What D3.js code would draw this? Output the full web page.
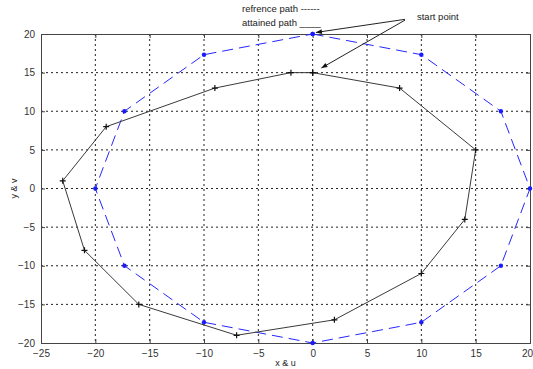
<!DOCTYPE html>
<html>
<head>
<meta charset="utf-8">
<style>
  body { margin: 0; background: #fff; }
  svg text { font-family: "Liberation Sans", Arial, sans-serif; }
</style>
<script src="https://cdn.jsdelivr.net/npm/d3@7"></script>
</head>
<body>
<svg id="graph"></svg>
<script>
// reference path (12 points on the circle r=20), closed
var refX = [0, 10, 17.32, 20, 17.32, 10, 0, -10, -17.32, -20, -17.32, -10, 0];
var refY = [20, 17.32, 10, 0, -10, -17.32, -20, -17.32, -10, 0, 10, 17.32, 20];

// attained path
var attX = [0, 8, 15, 14, 10, 2, -7, -16, -21, -23, -19, -9, -2, 0];
var attY = [15, 13, 5, -4, -11, -17, -19, -15, -8, 1, 8, 13, 15, 15];

var xTicks = [-25, -20, -15, -10, -5, 0, 5, 10, 15, 20];
var yTicks = [-20, -15, -10, -5, 0, 5, 10, 15, 20];

var margin = {top: 34, right: 3, bottom: 26, left: 41},
    width = 533 - margin.left - margin.right,
    height = 369 - margin.top - margin.bottom;

var x = d3.scaleLinear().domain([-25, 20]).range([0, width]);
var y = d3.scaleLinear().domain([-20, 20]).range([height, 0]);

var root = d3.select('#graph')
    .attr('width', 533)
    .attr('height', 369);

var defs = root.append('defs');
defs.append('marker')
    .attr('id', 'arrow')
    .attr('viewBox', '0 0 10 10')
    .attr('refX', 10).attr('refY', 5)
    .attr('markerWidth', 7).attr('markerHeight', 6)
    .attr('orient', 'auto')
  .append('path')
    .attr('d', 'M0,1 L10,5 L0,9 z')
    .attr('fill', '#111');

var svg = root.append('g')
    .attr('transform', 'translate(' + margin.left + ',' + margin.top + ')');

// grid
svg.append('g').selectAll('line.vx')
  .data(xTicks.slice(1, -1))
  .enter().append('line')
    .attr('x1', d => x(d)).attr('x2', d => x(d))
    .attr('y1', 0).attr('y2', height)
    .attr('stroke', '#222')
    .attr('stroke-width', 1)
    .attr('stroke-dasharray', '2,3');
svg.append('g').selectAll('line.hy')
  .data(yTicks.slice(1, -1))
  .enter().append('line')
    .attr('y1', d => y(d)).attr('y2', d => y(d))
    .attr('x1', 0).attr('x2', width)
    .attr('stroke', '#222')
    .attr('stroke-width', 1)
    .attr('stroke-dasharray', '2,3');

// axes
var xaxis = svg.append('g')
    .attr('transform', 'translate(0,' + height + ')')
    .call(d3.axisBottom(x).tickValues(xTicks).tickSize(-4).tickPadding(7));
var yaxis = svg.append('g')
    .call(d3.axisLeft(y).tickValues(yTicks).tickSize(-4).tickPadding(6));
svg.append('g')
    .attr('transform', 'translate(0,0)')
    .call(d3.axisTop(x).tickValues(xTicks).tickSize(-4).tickFormat(''));
svg.append('g')
    .attr('transform', 'translate(' + width + ',0)')
    .call(d3.axisRight(y).tickValues(yTicks).tickSize(-4).tickFormat(''));

svg.selectAll('.domain').attr('stroke', '#444');
svg.selectAll('.tick line').attr('stroke', '#444');
svg.selectAll('.tick text')
    .attr('font-size', 10)
    .attr('fill', '#333')
    .attr('font-family', '"Liberation Sans", Arial, sans-serif');
// keep the last x label inside the window
xaxis.selectAll('.tick text').filter(d => d === 20).attr('dx', -3);

// reference path
var refPts = refX.map((d, i) => [d, refY[i]]);
var attPts = attX.map((d, i) => [d, attY[i]]);
var line = d3.line().x(d => x(d[0])).y(d => y(d[1]));

svg.append('path')
    .datum(refPts)
    .attr('d', line)
    .attr('fill', 'none')
    .attr('stroke', '#2626ff')
    .attr('stroke-width', 1)
    .attr('stroke-dasharray', '11,6');
svg.selectAll('circle.ref')
  .data(refPts)
  .enter().append('circle')
    .attr('cx', d => x(d[0])).attr('cy', d => y(d[1]))
    .attr('r', 2.2)
    .attr('fill', '#1a1aff');

// attained path
svg.append('path')
    .datum(attPts)
    .attr('d', line)
    .attr('fill', 'none')
    .attr('stroke', '#3a3a3a')
    .attr('stroke-width', 1);
svg.selectAll('path.plus')
  .data(attPts)
  .enter().append('path')
    .attr('d', d => 'M' + (x(d[0]) - 3) + ',' + y(d[1]) + 'h6M' + x(d[0]) + ',' + (y(d[1]) - 3) + 'v6')
    .attr('stroke', '#111')
    .attr('stroke-width', 1.2);

// annotations
svg.append('text')
    .attr('x', x(-6.5)).attr('y', y(22.9))
    .attr('font-size', 9.5).attr('fill', '#222')
    .text('refrence path ------');
svg.append('text')
    .attr('x', x(-6.5)).attr('y', y(21.1))
    .attr('font-size', 9.5).attr('fill', '#222')
    .text('attained path ____');
svg.append('text')
    .attr('x', x(9.6)).attr('y', y(21.8))
    .attr('font-size', 9.5).attr('fill', '#222')
    .text('start point');

svg.append('line')
    .attr('x1', x(8.5)).attr('y1', y(21.9))
    .attr('x2', x(0.3)).attr('y2', y(20.2))
    .attr('stroke', '#222').attr('stroke-width', 1)
    .attr('marker-end', 'url(#arrow)');
svg.append('line')
    .attr('x1', x(8.5)).attr('y1', y(21.8))
    .attr('x2', x(0.8)).attr('y2', y(15.6))
    .attr('stroke', '#222').attr('stroke-width', 1)
    .attr('marker-end', 'url(#arrow)');

// axis labels
svg.append('text')
    .attr('x', width / 2).attr('y', height + 23)
    .attr('text-anchor', 'middle')
    .attr('font-size', 9).attr('fill', '#222')
    .text('x & u');
svg.append('text')
    .attr('transform', 'translate(' + (-24) + ',' + (height / 2) + ') rotate(-90)')
    .attr('text-anchor', 'middle')
    .attr('font-size', 9).attr('fill', '#222')
    .text('y & v');
</script>
</body>
</html>
